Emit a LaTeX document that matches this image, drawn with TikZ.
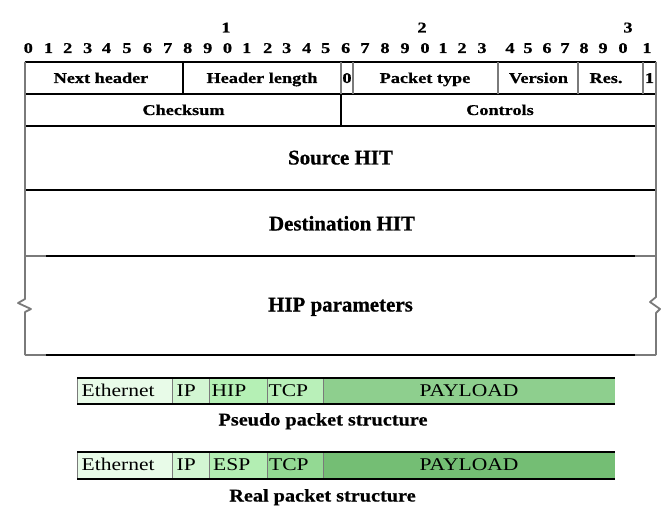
\documentclass[tikz,border=0pt]{standalone}
\usepackage{fontspec}
\setmainfont{Liberation Serif}
\newfontfamily\fieldfont[FakeStretch=1.22, BoldFeatures={FakeBold=0.7}]{Liberation Serif}
\newfontfamily\bigfont[BoldFeatures={FakeBold=0.7}]{Liberation Serif}
\newfontfamily\stripfont[FakeStretch=1.2]{Liberation Serif}
\newfontfamily\captionfont[FakeStretch=1.13, BoldFeatures={FakeBold=0.7}]{Liberation Serif}
\definecolor{rulegray}{HTML}{7A7A7A}
\definecolor{ethfill}{HTML}{E8FBE8}
\definecolor{ipfill}{HTML}{D2F6D2}
\definecolor{hipfill}{HTML}{B5F0B5}
\definecolor{tcpAfill}{HTML}{B9F0B9}
\definecolor{payAfill}{HTML}{8ECF8E}
\definecolor{espfill}{HTML}{B3EEB3}
\definecolor{tcpBfill}{HTML}{93D993}
\definecolor{payBfill}{HTML}{74BE74}
\begin{document}
\begin{tikzpicture}[x=1bp,y=-1bp,
  hrule/.style={line width=1.2bp, black},
  vrule/.style={line width=1.8bp, rulegray},
  divrule/.style={line width=1.2bp, black},
  bitnum/.style={font=\fieldfont\bfseries\fontsize{15}{15}\selectfont,
    inner sep=0pt, text height=10bp, text depth=0pt},
  fieldlabel/.style={font=\fieldfont\bfseries\fontsize{15}{15}\selectfont,
    inner sep=0pt, text height=10bp, text depth=0pt},
  biglabel/.style={font=\bigfont\bfseries\fontsize{21}{21}\selectfont,
    inner sep=0pt, text height=14bp, text depth=0pt},
  striplabel/.style={font=\stripfont\fontsize{18}{18}\selectfont,
    inner sep=0pt, text height=12bp, text depth=0pt},
  captionlabel/.style={font=\captionfont\bfseries\fontsize{18}{18}\selectfont,
    inner sep=0pt, text height=12bp, text depth=0pt},
  stripedge/.style={line width=1.8bp, black},
  stripdiv/.style={line width=0.8bp, rulegray}]
\useasboundingbox (0,0) rectangle (663,509);

% bit numbering
\node[bitnum] (tens1) at (226,27.5) {1};
\node[bitnum] (tens2) at (422,27.5) {2};
\node[bitnum] (tens3) at (628,27.5) {3};
\foreach \x [count=\i from 0] in {28.3,48.5,67.7,87.7,106.5,127,147.5,167.7,187.7,207.7,
    227.5,246.7,267.7,286.7,306.7,325.7,345.7,365,385,405,
    425,443,462,482,510,528,547,565,584,603,623,647}{
  \pgfmathtruncatemacro\digit{mod(\i,10)}
  \node[bitnum] (bit\i) at (\x,48) {\digit};
}

% header outline
\draw[hrule] (25,62) -- (656,62);
\draw[hrule] (25,94) -- (656,94);
\draw[hrule] (25,126) -- (656,126);
\draw[hrule] (25,190) -- (656,190);
\foreach \y in {256,355}{
  \draw[hrule] (46,\y) -- (635,\y);
  \draw[line width=1.5bp, rulegray] (25,\y) -- (46,\y);
  \draw[line width=1.5bp, rulegray] (635,\y) -- (656,\y);
}
% outer sides with break marks
\draw[vrule, line join=round] (25,62) -- (25,299) -- (18,303) -- (31,309) -- (25,312) -- (25,355);
\draw[vrule, line join=round] (656,62) -- (656,297) -- (650,302) -- (660,309) -- (656,313) -- (656,355);
% field dividers
\draw[divrule] (183,62) -- (183,94);
\foreach \x in {341,353,498,578,643}{
  \draw[vrule] (\x,62) -- (\x,94);
}
\draw[divrule] (341,94) -- (341,126);

% field labels
\node[fieldlabel] (nexthdr) at (101,78) {Next header};
\node[fieldlabel] (hdrlen) at (262,78) {Header length};
\node[fieldlabel] (zerobit) at (347,78) {0};
\node[fieldlabel] (pkttype) at (425,78) {Packet type};
\node[fieldlabel] (version) at (538.5,78) {Version};
\node[fieldlabel] (res) at (606,78) {Res.};
\node[fieldlabel] (onebit) at (649.5,78) {1};
\node[fieldlabel] (checksum) at (183.5,110) {Checksum};
\node[fieldlabel] (controls) at (500,110) {Controls};
\node[biglabel] (srchit) at (340.5,157.5) {Source HIT};
\node[biglabel] (dsthit) at (342,223.5) {Destination HIT};
\node[biglabel] (hipparams) at (340.5,304.5) {HIP parameters};

% pseudo packet strip
\fill[ethfill] (77,378) rectangle (172,404);
\fill[ipfill] (172,378) rectangle (209,404);
\fill[hipfill] (209,378) rectangle (267,404);
\fill[tcpAfill] (267,378) rectangle (323,404);
\fill[payAfill] (323,378) rectangle (615,404);
\foreach \x in {172,209,267,323}{
  \draw[stripdiv] (\x,378) -- (\x,404);
}
\draw[line width=1bp, rulegray] (77,378) -- (77,404);
\draw[stripedge] (77,378) -- (615,378);
\draw[stripedge] (77,404) -- (615,404);
\node[striplabel, anchor=west] (ethA) at (81.5,390) {Ethernet};
\node[striplabel, anchor=west] (ipA) at (176.5,390) {IP};
\node[striplabel, anchor=west] (hipA) at (211.5,390) {HIP};
\node[striplabel, anchor=west] (tcpA) at (268.5,390) {TCP};
\node[striplabel] (payA) at (469,390) {PAYLOAD};
\node[captionlabel] (pseudocap) at (323,419.5) {Pseudo packet structure};

% real packet strip
\fill[ethfill] (77,452) rectangle (172,479);
\fill[ipfill] (172,452) rectangle (209,479);
\fill[espfill] (209,452) rectangle (267,479);
\fill[tcpBfill] (267,452) rectangle (323,479);
\fill[payBfill] (323,452) rectangle (615,479);
\foreach \x in {172,209,267,323}{
  \draw[stripdiv] (\x,452) -- (\x,479);
}
\draw[line width=1bp, rulegray] (77,452) -- (77,479);
\draw[stripedge] (77,452) -- (615,452);
\draw[stripedge] (77,479) -- (615,479);
\node[striplabel, anchor=west] (ethB) at (81.5,464) {Ethernet};
\node[striplabel, anchor=west] (ipB) at (176.5,464) {IP};
\node[striplabel, anchor=west] (espB) at (213,464) {ESP};
\node[striplabel, anchor=west] (tcpB) at (269,464) {TCP};
\node[striplabel] (payB) at (469,464) {PAYLOAD};
\node[captionlabel] (realcap) at (322.5,495.5) {Real packet structure};
\end{tikzpicture}
\end{document}
